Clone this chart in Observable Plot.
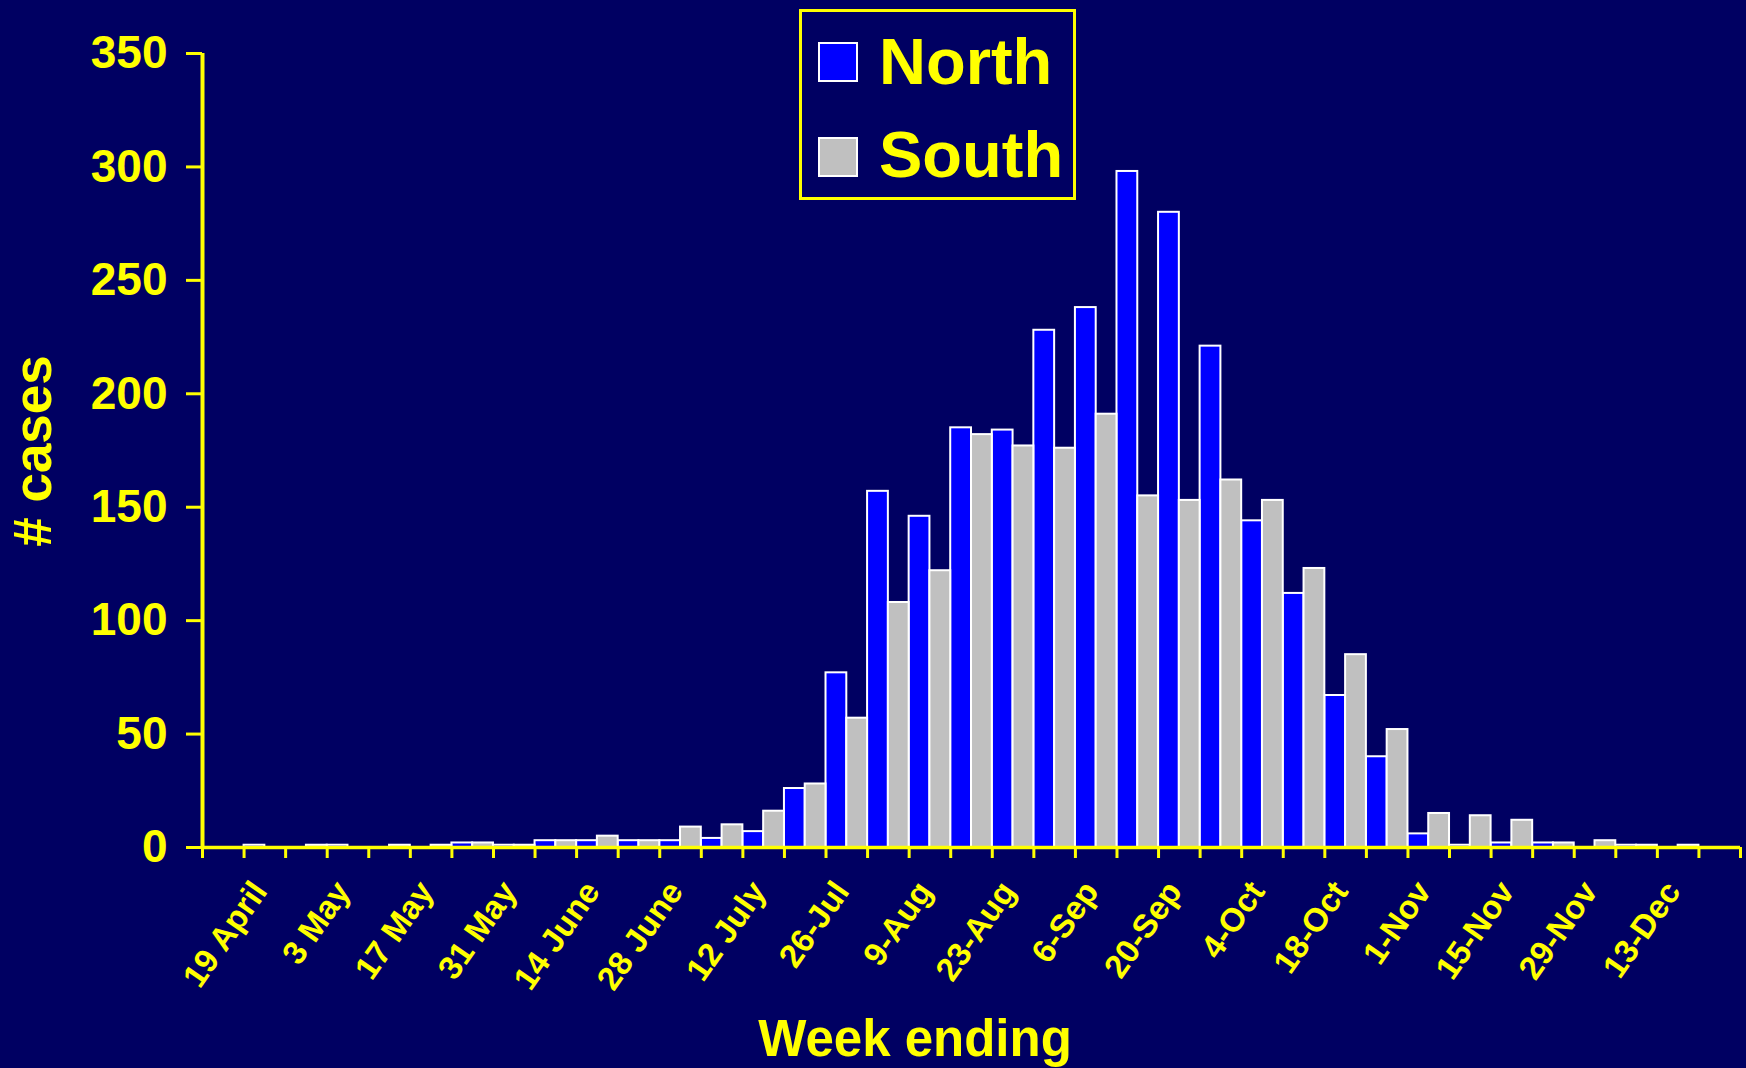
<!DOCTYPE html>
<html>
<head>
<meta charset="utf-8">
<script src="https://cdn.jsdelivr.net/npm/d3@7"></script>
<script src="https://cdn.jsdelivr.net/npm/@observablehq/plot@0.6"></script>
<style>
  html, body { margin: 0; padding: 0; background: #000062; }
  #wrap { position: relative; width: 1746px; height: 1068px; overflow: hidden;
          font-family: "Liberation Sans", Arial, sans-serif; font-weight: bold; color: #ffff00; }
  #chart { position: absolute; left: 0; top: 0; }
  .lab { position: absolute; white-space: nowrap; }
  #legend { position: absolute; left: 799px; top: 9px; width: 271px; height: 185px;
            border: 3px solid #ffff00; }
  .sw { position: absolute; left: 16px; width: 36px; height: 36px; border: 2px solid #ffffff; }
  .lt { position: absolute; left: 77px; font-size: 65px; line-height: 65px; }
</style>
</head>
<body>
<div id="wrap">
  <div id="chart"></div>
  <div class="lab" id="ytitle" style="left:32px; top:451px; font-size:53px; line-height:53px; transform: translate(-50%,-50%) rotate(-90deg);"># cases</div>
  <div class="lab" id="xtitle" style="left:915px; top:1013px; font-size:51px; line-height:51px; transform: translateX(-50%);">Week ending</div>
  <div id="legend"></div>
</div>
<script>
// ---- data (cases per week ending, 37 weeks) ----
const regions = ["North", "South"];
const regionColors = ["#0000ff", "#c0c0c0"];
const north = [0,1,0,1,0,0,2,1,3,3,3,3,4,7,26,77,157,146,185,184,228,238,298,280,221,144,112,67,40,6,1,2,2,0,1,0,0];
const south = [0,0,1,0,1,1,2,1,3,5,3,9,10,16,28,57,108,122,182,177,176,191,155,153,162,153,123,85,52,15,14,12,2,3,1,1,0];
const tickLabels = ["19 April","3 May","17 May","31 May","14 June","28 June","12 July","26-Jul","9-Aug","23-Aug","6-Sep","20-Sep","4-Oct","18-Oct","1-Nov","15-Nov","29-Nov","13-Dec"];
const tickWeeks = [1,3,5,7,9,11,13,15,17,19,21,23,25,27,29,31,33,35];
const yTicks = [0,50,100,150,200,250,300,350];

const nWeeks = north.length;
const rows = [];
north.forEach((v, i) => rows.push({week: i, region: "North", cases: v}));
south.forEach((v, i) => rows.push({week: i, region: "South", cases: v}));
const off = {North: 0, South: 0.5};
const labelAt = new Map(tickWeeks.map((w, k) => [w + 0.5, tickLabels[k]]));

const chart = Plot.plot({
  width: 1746,
  height: 1068,
  marginLeft: 202,
  marginRight: 6,
  marginTop: 53,
  marginBottom: 221,
  style: {background: "#000062", color: "#ffff00", fontFamily: "Liberation Sans, Arial, sans-serif", fontWeight: "bold", overflow: "visible"},
  x: {domain: [0, nWeeks], label: null},
  y: {domain: [0, 350], label: null},
  color: {domain: regions, range: regionColors},
  marks: [
    Plot.rectY(rows.filter(d => d.cases > 0), {
      x1: d => d.week + off[d.region],
      x2: d => d.week + off[d.region] + 0.5,
      y1: 0,
      y2: "cases",
      fill: "region",
      stroke: "#ffffff",
      strokeWidth: 2
    }),
    Plot.axisX({ticks: d3.range(0, nWeeks + 1), tickSize: 11, tickFormat: () => "", strokeWidth: 3, label: null}),
    Plot.axisX({ticks: tickWeeks.map(w => w + 0.5), tickSize: 0, tickPadding: 38, tickRotate: -55, dx: -5,
                tickFormat: d => labelAt.get(d), fontSize: 33, fontWeight: "bold", label: null}),
    Plot.axisY({ticks: yTicks, tickSize: 16, tickPadding: 19, fontSize: 46, fontWeight: "bold", strokeWidth: 3, label: null}),
    Plot.ruleY([0], {x1: 0, x2: nWeeks, stroke: "#ffff00", strokeWidth: 3.5}),
    Plot.ruleX([0], {y1: 0, y2: 350, stroke: "#ffff00", strokeWidth: 4})
  ]
});
document.getElementById("chart").appendChild(chart);

// ---- legend ----
const legend = document.getElementById("legend");
const swTops = [30, 125];
const txtTops = [17, 110];
regions.forEach((r, k) => {
  const sw = document.createElement("div");
  sw.className = "sw";
  sw.style.top = swTops[k] + "px";
  sw.style.background = regionColors[k];
  legend.appendChild(sw);
  const t = document.createElement("div");
  t.className = "lt";
  t.style.top = txtTops[k] + "px";
  t.textContent = r;
  legend.appendChild(t);
});
</script>
</body>
</html>
